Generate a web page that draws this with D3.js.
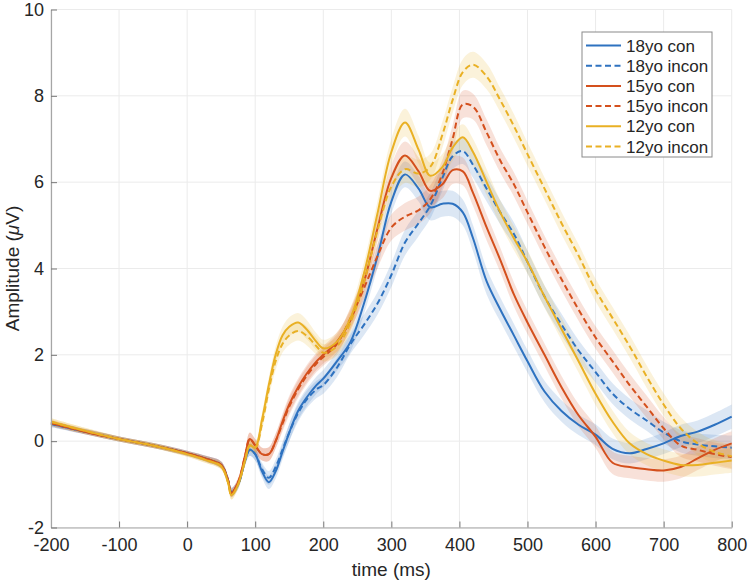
<!DOCTYPE html>
<html>
<head>
<meta charset="utf-8">
<script src="https://cdn.jsdelivr.net/npm/d3@7"></script>
<style>
  body { margin: 0; background: #fff; }
  svg { display: block; font-family: "Liberation Sans", Arial, Helvetica, sans-serif; }
</style>
</head>
<body>
<svg id="chart" width="748" height="583"></svg>
<script>
// time grid (ms) shared by every series
const times = [-200, -150, -100, -50, 0, 30, 50, 60, 65, 75, 85,
  92, 100, 110, 120, 130, 140, 150, 163, 175, 190,
  200, 220, 240, 260, 280, 300, 320, 340, 357, 375,
  390, 405, 420, 440, 460, 480, 500, 525, 550, 575,
  600, 625, 650, 675, 700, 725, 750, 775, 800];

const con18 = [0.4, 0.22, 0.05, -0.1, -0.28, -0.42, -0.55, -0.9, -1.18, -1.0, -0.45,
  -0.2, -0.3, -0.7, -0.95, -0.7, -0.25, 0.2, 0.7, 1.0, 1.3,
  1.45, 1.85, 2.3, 3.2, 4.3, 5.55, 6.18, 5.85, 5.42, 5.5,
  5.5, 5.3, 4.7, 3.7, 3.05, 2.45, 1.85, 1.15, 0.7, 0.38,
  0.15, -0.18, -0.28, -0.18, -0.05, 0.12, 0.22, 0.38, 0.57];
const incon18 = [0.4, 0.22, 0.05, -0.1, -0.28, -0.42, -0.55, -0.9, -1.18, -1.0, -0.45,
  -0.2, -0.3, -0.65, -0.85, -0.6, -0.2, 0.2, 0.65, 0.95, 1.2,
  1.3, 1.7, 2.25, 2.7, 3.2, 3.85, 4.6, 5.05, 5.45, 6.1,
  6.6, 6.72, 6.4, 5.85, 5.3, 4.8, 4.15, 3.35, 2.7, 2.1,
  1.6, 1.1, 0.75, 0.48, 0.2, 0.0, -0.08, -0.12, -0.15];
const con15 = [0.42, 0.22, 0.05, -0.1, -0.28, -0.42, -0.55, -0.9, -1.2, -0.95, -0.35,
  0.05, -0.1, -0.3, -0.3, 0.0, 0.45, 0.85, 1.25, 1.55, 1.85,
  2.0, 2.3, 2.8, 3.7, 4.95, 6.1, 6.62, 6.25, 5.8, 5.95,
  6.28, 6.25, 5.75, 4.95, 4.2, 3.4, 2.75, 2.0, 1.25, 0.6,
  0.1, -0.5, -0.6, -0.65, -0.68, -0.6, -0.4, -0.2, -0.05];
const incon15 = [0.42, 0.22, 0.05, -0.1, -0.28, -0.42, -0.55, -0.9, -1.2, -0.95, -0.35,
  0.05, -0.1, -0.3, -0.3, 0.0, 0.4, 0.8, 1.2, 1.5, 1.8,
  1.95, 2.25, 2.85, 3.55, 4.3, 4.95, 5.2, 5.35, 5.6, 6.2,
  7.0, 7.8, 7.75, 7.15, 6.5, 5.95, 5.3, 4.5, 3.75, 3.05,
  2.4, 1.85, 1.3, 0.8, 0.3, -0.1, -0.2, -0.3, -0.37];
const con12 = [0.45, 0.24, 0.05, -0.1, -0.3, -0.45, -0.58, -0.95, -1.25, -1.0, -0.45,
  -0.1, -0.15, 0.5, 1.3, 2.0, 2.45, 2.65, 2.75, 2.6, 2.3,
  2.15, 2.3, 2.85, 3.9, 5.3, 6.7, 7.38, 6.75, 6.15, 6.35,
  6.8, 7.04, 6.7, 6.0, 5.3, 4.7, 4.15, 3.35, 2.6, 1.85,
  1.1, 0.45, -0.05, -0.3, -0.45, -0.55, -0.55, -0.5, -0.45];
const incon12 = [0.45, 0.24, 0.05, -0.1, -0.3, -0.45, -0.58, -0.95, -1.25, -1.0, -0.45,
  -0.1, -0.15, 0.4, 1.2, 1.85, 2.25, 2.45, 2.55, 2.45, 2.2,
  2.05, 2.2, 2.75, 3.7, 4.9, 5.9, 6.3, 6.2, 6.35, 7.1,
  7.9, 8.55, 8.72, 8.45, 7.9, 7.3, 6.65, 5.85, 5.05, 4.3,
  3.5, 2.85, 2.2, 1.5, 0.85, 0.3, -0.05, -0.25, -0.35];

// standard error half-widths per age group
const sem18 = [0.07, 0.06, 0.06, 0.06, 0.06, 0.07, 0.08, 0.1, 0.1, 0.1, 0.12,
  0.14, 0.15, 0.15, 0.16, 0.17, 0.18, 0.2, 0.2, 0.2, 0.2,
  0.2, 0.22, 0.22, 0.24, 0.26, 0.28, 0.3, 0.3, 0.3, 0.3,
  0.3, 0.3, 0.3, 0.3, 0.28, 0.27, 0.26, 0.25, 0.25, 0.24,
  0.24, 0.24, 0.24, 0.24, 0.25, 0.26, 0.26, 0.27, 0.28];
const sem15 = [0.07, 0.06, 0.06, 0.06, 0.06, 0.07, 0.08, 0.1, 0.1, 0.1, 0.12,
  0.15, 0.15, 0.15, 0.16, 0.17, 0.18, 0.2, 0.2, 0.2, 0.2,
  0.2, 0.22, 0.24, 0.26, 0.28, 0.3, 0.32, 0.32, 0.32, 0.32,
  0.32, 0.32, 0.3, 0.3, 0.28, 0.28, 0.27, 0.26, 0.26, 0.26,
  0.26, 0.26, 0.26, 0.26, 0.26, 0.26, 0.27, 0.27, 0.28];
const sem12 = [0.08, 0.07, 0.06, 0.06, 0.06, 0.07, 0.08, 0.1, 0.1, 0.1, 0.12,
  0.15, 0.15, 0.16, 0.18, 0.2, 0.2, 0.22, 0.22, 0.22, 0.2,
  0.2, 0.22, 0.24, 0.26, 0.28, 0.3, 0.32, 0.32, 0.3, 0.3,
  0.3, 0.3, 0.3, 0.3, 0.28, 0.28, 0.27, 0.26, 0.26, 0.26,
  0.26, 0.26, 0.26, 0.26, 0.26, 0.26, 0.27, 0.27, 0.28];

const seriesNames = ["18yo con", "18yo incon", "15yo con", "15yo incon", "12yo con", "12yo incon"];
const seriesValues = [con18, incon18, con15, incon15, con12, incon12];
const seriesSem = [sem18, sem18, sem15, sem15, sem12, sem12];
const seriesColors = ["#2e72c0", "#2e72c0", "#d4501d", "#d4501d", "#e9b024", "#e9b024"];
const seriesDashed = [false, true, false, true, false, true];

const xTicks = [-200, -100, 0, 100, 200, 300, 400, 500, 600, 700, 800];
const yTicks = [-2, 0, 2, 4, 6, 8, 10];

const svg = d3.select("#chart");
const plotLeft = 51, plotRight = 731.7, plotTop = 9.5, plotBottom = 527.5;

const x = d3.scaleLinear().domain([-200, 800]).range([plotLeft, plotRight]);
const y = d3.scaleLinear().domain([-2, 10]).range([plotBottom, plotTop]);

// grid
const grid = svg.append("g");
grid.selectAll(".gx").data(xTicks).join("line")
  .attr("x1", d => x(d)).attr("x2", d => x(d))
  .attr("y1", plotTop).attr("y2", plotBottom)
  .attr("stroke", "#ebebeb").attr("stroke-width", 1);
grid.selectAll(".gy").data(yTicks).join("line")
  .attr("x1", plotLeft).attr("x2", plotRight)
  .attr("y1", d => y(d)).attr("y2", d => y(d))
  .attr("stroke", "#ebebeb").attr("stroke-width", 1);

const plot = svg.append("g");

const area = d3.area()
  .x(d => x(d.t))
  .y0(d => y(d.v - d.s))
  .y1(d => y(d.v + d.s))
  .curve(d3.curveCatmullRom.alpha(0.5));
const line = d3.line()
  .x(d => x(d.t))
  .y(d => y(d.v))
  .curve(d3.curveCatmullRom.alpha(0.5));

const rows = seriesValues.map((vals, i) =>
  times.map((t, j) => ({ t, v: vals[j], s: seriesSem[i][j] })));

// shaded error bands
rows.forEach((r, i) => {
  plot.append("path").datum(r)
    .attr("d", area)
    .attr("fill", seriesColors[i])
    .attr("fill-opacity", 0.17)
    .attr("stroke", "none");
});

// mean lines
rows.forEach((r, i) => {
  plot.append("path").datum(r)
    .attr("d", line)
    .attr("fill", "none")
    .attr("stroke", seriesColors[i])
    .attr("stroke-width", 2)
    .attr("stroke-dasharray", seriesDashed[i] ? "6,3.5" : null);
});

// axes (MATLAB style, ticks inward, box off); plain hyphen for negatives
const axisColor = "#a6a6a6";
const plainFmt = d => String(d);
const xAxis = svg.append("g").attr("transform", `translate(0,${plotBottom})`)
  .call(d3.axisBottom(x).tickValues(xTicks).tickFormat(plainFmt)
    .tickSizeInner(-6).tickSizeOuter(0).tickPadding(11));
const yAxis = svg.append("g").attr("transform", `translate(${plotLeft},0)`)
  .call(d3.axisLeft(y).tickValues(yTicks).tickFormat(plainFmt)
    .tickSizeInner(-6).tickSizeOuter(0).tickPadding(7));
[xAxis, yAxis].forEach(a => {
  a.select(".domain").attr("stroke", axisColor).attr("stroke-width", 1.2);
  a.selectAll(".tick line").attr("stroke", "#777");
  a.selectAll(".tick text").attr("fill", "#262626")
    .style("font-size", "18px")
    .style("font-family", "'Liberation Sans', Arial, Helvetica, sans-serif");
});

svg.append("text")
  .attr("x", x(300)).attr("y", 576)
  .attr("text-anchor", "middle")
  .attr("fill", "#262626").style("font-size", "19px")
  .text("time (ms)");

const yl = svg.append("text")
  .attr("transform", `translate(19,${y(4)}) rotate(-90)`)
  .attr("text-anchor", "middle")
  .attr("fill", "#262626").style("font-size", "19px");
yl.append("tspan").text("Amplitude (");
yl.append("tspan").attr("font-style", "italic").text("\u03BC");
yl.append("tspan").text("V)");

// legend
const legend = svg.append("g").attr("transform", "translate(582,32)");
legend.append("rect")
  .attr("width", 130).attr("height", 125)
  .attr("fill", "#fff").attr("stroke", "#8a8a8a").attr("stroke-width", 1);
seriesNames.forEach((name, i) => {
  const ly = 13.5 + i * 20.2;
  legend.append("line")
    .attr("x1", 4).attr("x2", 39).attr("y1", ly).attr("y2", ly)
    .attr("stroke", seriesColors[i]).attr("stroke-width", 2)
    .attr("stroke-dasharray", seriesDashed[i] ? "6,3.5" : null);
  legend.append("text")
    .attr("x", 44).attr("y", ly + 6)
    .attr("fill", "#262626").style("font-size", "17px")
    .text(name);
});
</script>
</body>
</html>
